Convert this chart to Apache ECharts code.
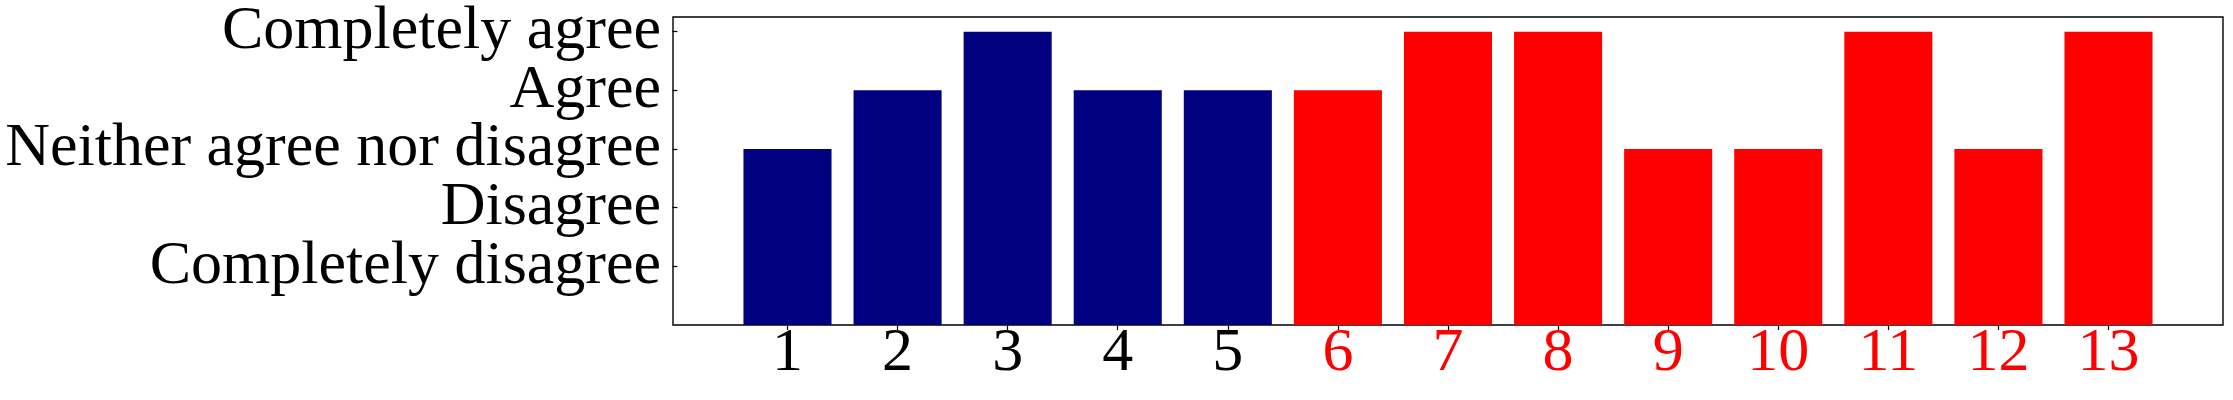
<!DOCTYPE html>
<html>
<head>
<meta charset="utf-8">
<script src="https://cdn.jsdelivr.net/npm/echarts@6/dist/echarts.min.js"></script>
<style>html,body{margin:0;padding:0;background:#fff}#c{width:2233px;height:400px}</style>
</head>
<body>
<div id="c"></div>
<script>
const categories = [1,2,3,4,5,6,7,8,9,10,11,12,13];
const values = [3,4,5,4,4,4,5,5,3,3,5,3,5];
const groups = ['A','A','A','A','A','B','B','B','B','B','B','B','B'];
const yTickValues = [1,2,3,4,5];
const yTickLabels = ['Completely disagree','Disagree','Neither agree nor disagree','Agree','Completely agree'];
const groupColors = {A:'#000080', B:'#ff0000'};
const labelColors = {A:'#000000', B:'#ff0000'};

const font = '"Liberation Serif", serif';
const chart = echarts.init(document.getElementById('c'), null, {renderer:'canvas'});
chart.setOption({
  animation:false,
  grid:{left:673, right:10, top:17, bottom:75, show:true, borderColor:'#000', borderWidth:1.4, backgroundColor:'transparent'},
  xAxis:{
    type:'value', min:-0.04, max:14.04,
    splitLine:{show:false},
    axisLine:{show:false, onZero:false},
    axisTick:{show:true, customValues:categories, length:5, lineStyle:{color:'#000', width:1.2}},
    axisLabel:{
      customValues:categories, margin:3, fontFamily:font, fontSize:62, lineHeight:52,
      hideOverlap:false, showMinLabel:true, showMaxLabel:true,
      formatter:v=>String(v),
      color:(v)=>{const i=categories.indexOf(Number(v)); return i>=0?labelColors[groups[i]]:'#000';}
    }
  },
  yAxis:{
    type:'value', min:0, max:5.25, interval:1,
    splitLine:{show:false},
    axisLine:{show:false},
    axisTick:{show:true, length:5, lineStyle:{color:'#000', width:1.2}},
    axisLabel:{
      margin:12, fontFamily:font, fontSize:62, lineHeight:50, color:'#000',
      hideOverlap:false, showMinLabel:false, showMaxLabel:false,
      formatter:v=>{const i=yTickValues.indexOf(Number(v)); return i>=0?yTickLabels[i]:'';}
    }
  },
  series:[{
    type:'bar', barWidth:'80%',
    data:categories.map((c,i)=>({value:[c, values[i]], itemStyle:{color:groupColors[groups[i]]}}))
  }]
});
</script>
</body>
</html>
